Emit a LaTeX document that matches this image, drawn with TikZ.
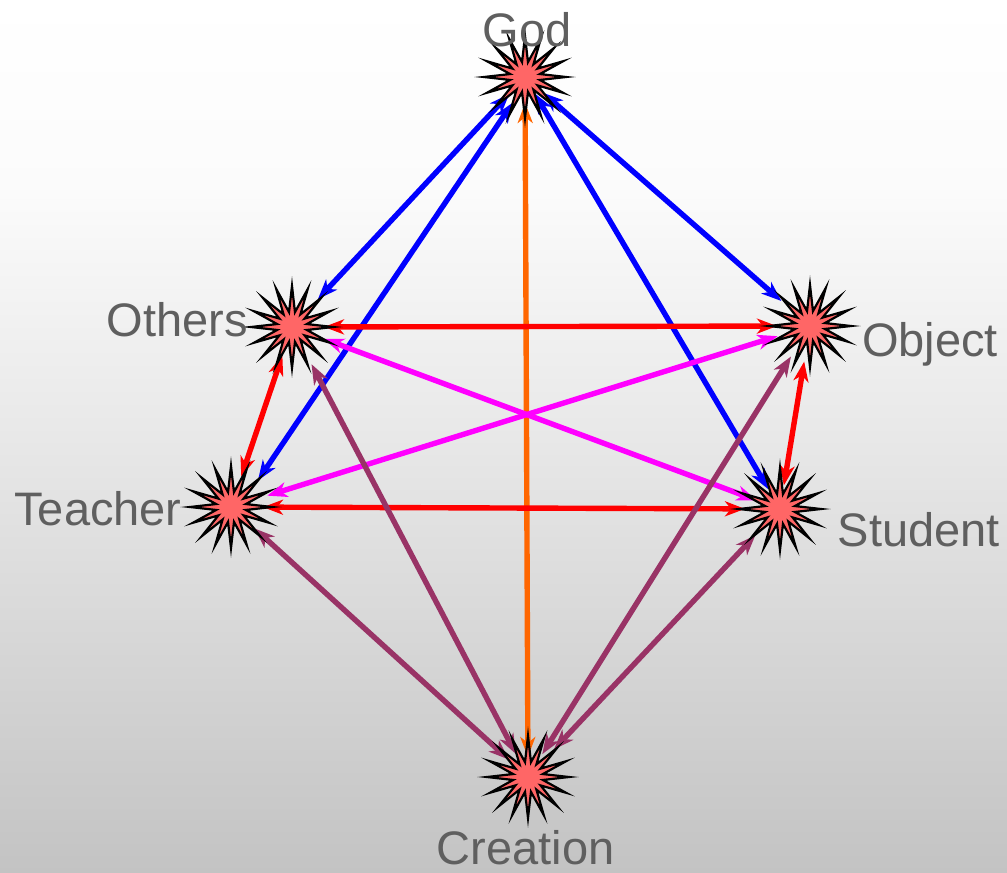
\documentclass[tikz,border=0pt]{standalone}
\usepackage{fontspec}
\setmainfont{Liberation Sans}
\usetikzlibrary{shapes.symbols,shapes.geometric,arrows.meta}
\definecolor{starred}{HTML}{FF6666}
\definecolor{labelgray}{HTML}{5F5F5F}
\definecolor{cblue}{HTML}{0000FF}
\definecolor{corange}{HTML}{FF6600}
\definecolor{cred}{HTML}{FF0000}
\definecolor{cmag}{HTML}{FF00FF}
\definecolor{cpurp}{HTML}{993366}
\definecolor{bgA}{HTML}{C3C3C3}
\definecolor{bgB}{HTML}{E8E8E8}
\definecolor{bgC}{HTML}{FBFBFB}
\pgfdeclareverticalshading{bgshade}{100bp}{color(0bp)=(bgA); color(25bp)=(bgA); color(50bp)=(bgB); color(64bp)=(bgC); color(75bp)=(white); color(100bp)=(white)}
\pgfdeclarelayer{bglayer}
\pgfdeclarelayer{edgelayer}
\pgfsetlayers{bglayer,edgelayer,main}
\begin{document}
\begin{tikzpicture}[x=1pt,y=-1pt,
  burst/.style={star, star points=16, star point ratio=2.7, minimum size=82pt,
    inner sep=0pt, draw=black, line width=2.2pt, fill=starred},
  lbl/.style={text=labelgray, font=\fontsize{47}{56}\selectfont, anchor=base, inner sep=0pt},
  tipx/.style={Stealth[length=20pt,width=15pt,inset=6pt]},
  link/.style={line width=5.4pt, {Stealth[length=20pt,width=15pt,inset=6pt]}-{Stealth[length=20pt,width=15pt,inset=6pt]}}
]
\begin{pgfonlayer}{bglayer}
\fill[shading=bgshade] (0,0) rectangle (1007,873);
\end{pgfonlayer}
\useasboundingbox (0,0) rectangle (1007,873);

% nodes
\node[burst] (god) at (525,77) {};
\node[burst] (others) at (292,327) {};
\node[burst] (object) at (810,326) {};
\node[burst] (teacher) at (231,507) {};
\node[burst] (student) at (780,509) {};
\node[burst] (creation) at (528,777) {};

% labels
\node[lbl] (lgod) at (527,46) {God};
\node[lbl] (lothers) at (177.5,336) {Others};
\node[lbl] (lobject) at (930,356) {Object};
\node[lbl] (lteacher) at (98,525) {Teacher};
\node[lbl] (lstudent) at (919,546) {Student};
\node[lbl] (lcreation) at (525.5,864) {Creation};

\begin{pgfonlayer}{edgelayer}
% blue
\draw[link, cblue, shorten <=23pt, shorten >=38pt] (god.center) -- (others.center);
\draw[link, cblue, shorten <=31pt, shorten >=32pt] ([xshift=5pt]god.center) -- ([xshift=9pt]teacher.center);
\draw[link, cblue, shorten <=19pt, shorten >=23pt] (god.center) -- (student.center);
\draw[link, cblue, shorten <=24pt, shorten >=38pt] (god.center) -- (object.center);
% orange
\draw[link, corange, shorten <=26pt, shorten >=20pt] (god.center) -- (creation.center);
% red
\draw[link, cred, shorten <=32pt, shorten >=33pt] (others.center) -- (object.center);
\draw[link, cred, shorten <=32pt, shorten >=35pt] (teacher.center) -- (student.center);
\draw[link, cred, shorten <=30pt, shorten >=32pt] (others.center) -- (teacher.center);
\draw[link, cred, shorten <=36pt, shorten >=24pt] (object.center) -- (student.center);
% magenta
\draw[link, cmag, shorten <=34pt, shorten >=25pt] (others.center) -- (student.center);
\draw[link, cmag, shorten <=38pt, shorten >=34pt] (teacher.center) -- (object.center);
% purple
\draw[link, cpurp, shorten <=42pt, shorten >=26pt] (others.center) -- (creation.center);
\draw[link, cpurp, shorten <=32pt, shorten >=26pt] (teacher.center) -- (creation.center);
\draw[link, cpurp, shorten <=36pt, shorten >=27pt] (object.center) -- (creation.center);
\draw[link, cpurp, shorten <=36pt, shorten >=38pt] (student.center) -- (creation.center);
\end{pgfonlayer}
\end{tikzpicture}
\end{document}
